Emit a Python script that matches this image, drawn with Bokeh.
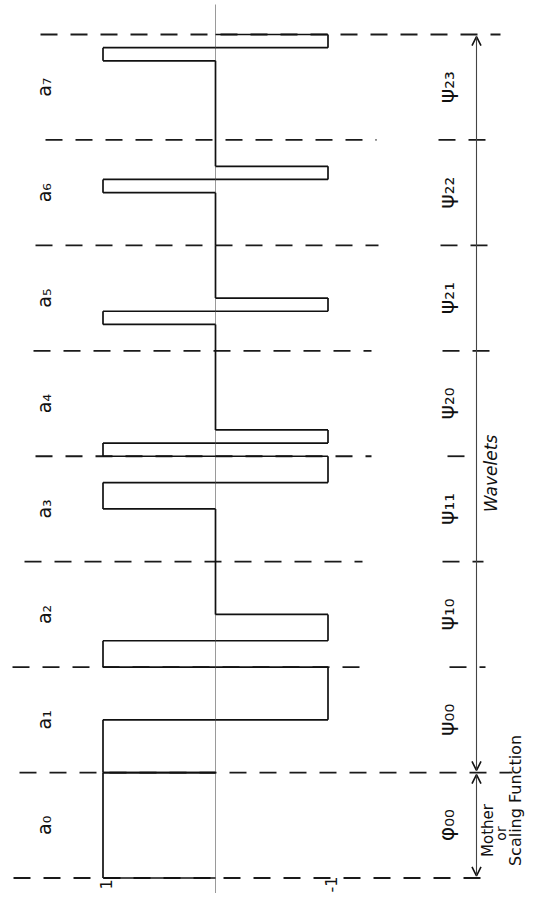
import math
from bokeh.plotting import figure
from bokeh.models import Range1d, Arrow, OpenHead
from bokeh.embed import file_html
from bokeh.resources import INLINE
from bokeh.core.properties import value

# ---------------- data ----------------
interval_edges = [0, 1, 2, 3, 4, 5, 6, 7, 8]
coef_labels = ["a₀", "a₁", "a₂", "a₃", "a₄", "a₅", "a₆", "a₇"]
basis_labels = ["φ₀₀", "ψ₀₀", "ψ₁₀", "ψ₁₁", "ψ₂₀", "ψ₂₁", "ψ₂₂", "ψ₂₃"]

step_starts = [0, 1, 1.5, 2, 2.25, 2.5, 3, 3.5, 3.75, 4, 4.125, 4.25,
               5, 5.25, 5.375, 5.5, 6, 6.5, 6.625, 6.75, 7, 7.75, 7.875]
step_ends = [1, 1.5, 2, 2.25, 2.5, 3, 3.5, 3.75, 4, 4.125, 4.25, 5,
             5.25, 5.375, 5.5, 6, 6.5, 6.625, 6.75, 7, 7.75, 7.875, 8]
step_values = [1, 1, -1, 1, -1, 0, 0, 1, -1, 1, -1, 0,
               0, 1, -1, 0, 0, 1, -1, 0, 0, 1, -1]

tick_values = [1, -1]
tick_labels = ["1", "-1"]

# ---------------- layout helpers ----------------
W, H = 525, 893
UNIT_X = 112.5      # px per unit of function value
ZERO_SX = 215.0     # picture x of value 0
UNIT_Y = 105.44     # px per unit of t
T0_SY = 877.5       # picture y of t = 0


def vx(sx):
    """picture x -> function value"""
    return (ZERO_SX - sx) / UNIT_X


def ty(sy):
    """picture y -> t"""
    return (T0_SY - sy) / UNIT_Y


x_left = vx(0)
x_right = vx(W)
t_top = ty(0)
t_bot = ty(H)

p = figure(width=W, height=H, output_backend="svg", toolbar_location=None,
           x_range=Range1d(x_left, x_right), y_range=Range1d(t_bot, t_top),
           min_border=0, outline_line_color=None)
p.axis.visible = False
p.grid.visible = False
p.background_fill_color = "white"
p.border_fill_color = "white"

# zero axis (thin gray)
p.segment(x0=[0], y0=[t_bot], x1=[0], y1=[ty(4)], line_color="#9a9a9a", line_width=1)

# dashed interval guides (picture-x extents for each edge)
guide_spans = [
    [(13, 493)],
    [(19, 512)],
    [(12, 367), (449, 485)],
    [(24, 362), (442, 483)],
    [(35, 371), (447, 469)],
    [(33, 371), (442, 493)],
    [(35, 378), (440, 492)],
    [(45, 376), (438, 497)],
    [(40, 500)],
]
gx0, gx1, gy = [], [], []
for t, spans in zip(interval_edges, guide_spans):
    for a, b in spans:
        gx0.append(vx(a)); gx1.append(vx(b)); gy.append(t)
p.segment(x0=gx0, y0=gy, x1=gx1, y1=gy, line_color="#1a1a1a",
          line_width=1.8, line_dash="17 13")

# function boxes: vertical side at the value, horizontal edges back to zero
vx0, vy0, vx1, vy1 = [], [], [], []
for s, e, v in zip(step_starts, step_ends, step_values):
    vx0.append(v); vy0.append(s); vx1.append(v); vy1.append(e)
    if v != 0:
        vx0 += [0, 0]; vy0 += [s, e]; vx1 += [v, v]; vy1 += [s, e]
p.segment(x0=vx0, y0=vy0, x1=vx1, y1=vy1, line_color="#111111", line_width=1.7)

# arrows
arrow_x = vx(476)
for a, b in [(interval_edges[0], interval_edges[1]), (interval_edges[1], interval_edges[-1])]:
    p.add_layout(Arrow(x_start=arrow_x, y_start=a + 0.02, x_end=arrow_x, y_end=b - 0.02,
                       line_color="#444444", line_width=1.1,
                       start=OpenHead(size=9, line_color="#111111", line_width=1.6),
                       end=OpenHead(size=9, line_color="#111111", line_width=1.6)))

mids = [(a + b) / 2 for a, b in zip(interval_edges[:-1], interval_edges[1:])]
font = value("DejaVu Sans")
rot = math.pi / 2

p.text(x=[vx(43)] * len(mids), y=mids, text=coef_labels, angle=rot,
       text_font=font, text_font_size="19px", text_color="#111111",
       text_align="center", text_baseline="middle")
p.text(x=[vx(446)] * len(mids), y=mids, text=basis_labels, angle=rot,
       text_font=font, text_font_size="22px", text_color="#111111",
       text_align="center", text_baseline="middle")

p.text(x=[vx(490)], y=[ty(473)], text=["Wavelets"], angle=rot,
       text_font=font, text_font_size="17px", text_font_style="italic",
       text_color="#111111", text_align="center", text_baseline="middle")
p.text(x=[vx(487)], y=[ty(830)], text=["Mother"], angle=rot,
       text_font=font, text_font_size="15px", text_color="#111111",
       text_align="center", text_baseline="middle")
p.text(x=[vx(500)], y=[ty(833)], text=["or"], angle=rot,
       text_font=font, text_font_size="14px", text_color="#111111",
       text_align="center", text_baseline="middle")
p.text(x=[vx(515)], y=[ty(800)], text=["Scaling Function"], angle=rot,
       text_font=font, text_font_size="16px", text_color="#111111",
       text_align="center", text_baseline="middle")

p.text(x=[v - 0.03 for v in tick_values], y=[ty(884)] * 2, text=tick_labels, angle=rot,
       text_font=font, text_font_size="16px", text_color="#111111",
       text_align="center", text_baseline="middle")

open("out.html", "w").write(file_html(p, INLINE))
